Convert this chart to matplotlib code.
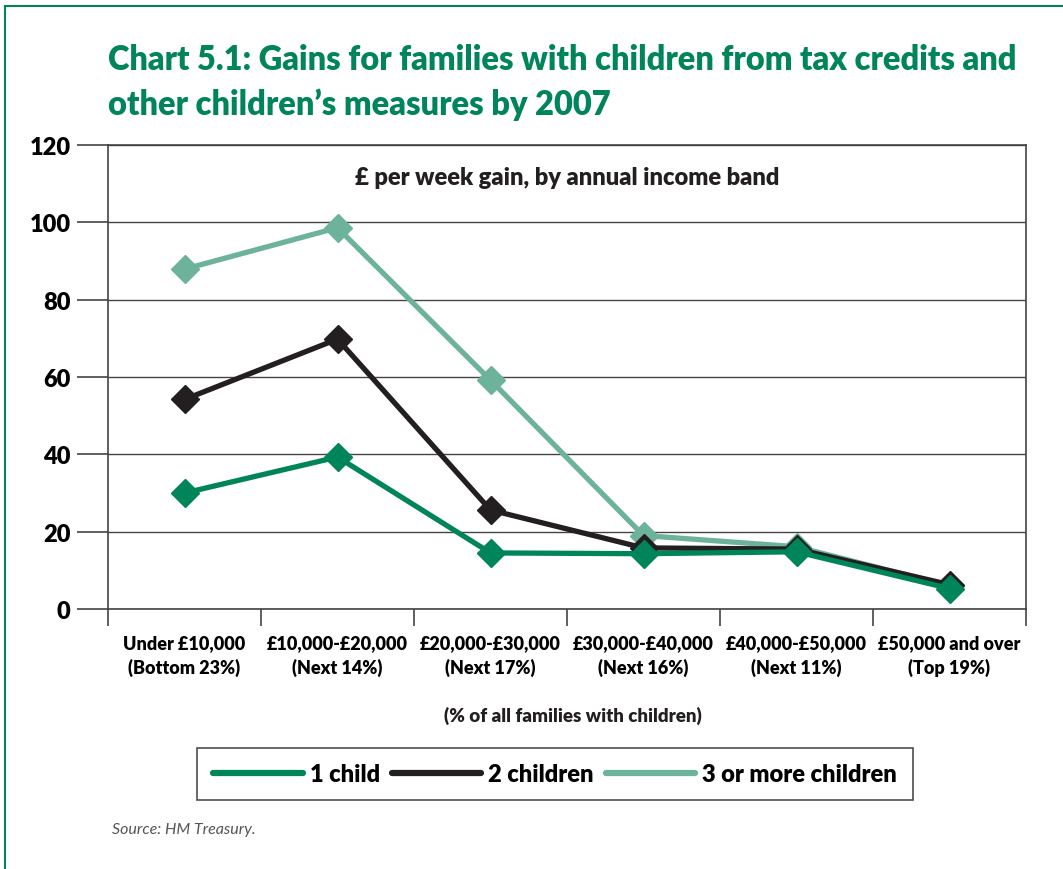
import numpy as np
import matplotlib.pyplot as plt
from matplotlib.lines import Line2D

# --- datos ---
bands = ["Under £10,000\n(Bottom 23%)", "£10,000-£20,000\n(Next 14%)",
         "£20,000-£30,000\n(Next 17%)", "£30,000-£40,000\n(Next 16%)",
         "£40,000-£50,000\n(Next 11%)", "£50,000 and over\n(Top 19%)"]
one_child = [30, 39.3, 14.5, 14.3, 14.8, 5.3]
two_children = [54.2, 69.8, 25.6, 15.8, 15.5, 6.3]
three_plus = [87.9, 98.6, 59.2, 19.0, 16.1, 6.0]
series_names = ["1 child", "2 children", "3 or more children"]

GREEN = "#00845A"
BLACK = "#231F20"
LIGHT = "#6DB39B"
W = 'heavy'

plt.rcParams['font.family'] = ['Lato', 'DejaVu Sans']

fig = plt.figure(figsize=(10.63, 8.70), dpi=100)
ax = fig.add_axes([108/1063, 1 - 610/870, (1026-108)/1063, (610-146)/870])

# borde verde de la figura
fig.add_artist(Line2D([5/1063, 5/1063], [0, 1 - 7/870], color=GREEN, lw=1.5))
fig.add_artist(Line2D([5/1063, 1], [1 - 7/870, 1 - 7/870], color=GREEN, lw=1.5))

x = np.arange(len(bands)) + 0.5
for vals, col in [(three_plus, LIGHT), (two_children, BLACK), (one_child, GREEN)]:
    ax.plot(x, vals, color=col, lw=3.8, marker='D', markersize=14,
            markeredgecolor=col, solid_joinstyle='miter')

ax.set_xlim(0, 6)
ax.set_ylim(0, 120)
ax.set_yticks(np.arange(0, 121, 20))
ax.set_yticklabels([str(v) for v in range(0, 121, 20)], fontsize=17, fontweight=W)
ax.tick_params(axis='y', length=22, width=1.2, color='#444444', pad=5)
ax.yaxis.grid(True, color='#444444', lw=1)
ax.set_axisbelow(True)

ax.set_xticks(np.arange(0, 7))
ax.set_xticklabels([])
ax.tick_params(axis='x', which='major', length=12, width=1.2, color='#444444', direction='out')
ax.set_xticks(x, minor=True)
ax.set_xticklabels(bands, minor=True, fontsize=13, fontweight=W, linespacing=1.45)
ax.tick_params(axis='x', which='minor', length=0, pad=18)

for s in ax.spines.values():
    s.set_color('#444444')
    s.set_linewidth(1.2)

ax.text(0.5, 0.93, "£ per week gain, by annual income band", transform=ax.transAxes,
        ha='center', va='center', fontsize=17, fontweight=W, color=BLACK)

fig.text(573/1063, 1 - 716/870, "(% of all families with children)", ha='center',
         va='center', fontsize=13.5, fontweight=W, color=BLACK)

fig.text(108/1063, 1 - 60/870, "Chart 5.1: Gains for families with children from tax credits and",
         ha='left', va='center', fontsize=23.5, fontweight=W, color=GREEN)
fig.text(108/1063, 1 - 105/870, "other children’s measures by 2007",
         ha='left', va='center', fontsize=23.5, fontweight=W, color=GREEN)

handles = [Line2D([], [], color=c, lw=4.5, solid_capstyle='round') for c in (GREEN, BLACK, LIGHT)]
leg = fig.legend(handles, series_names, loc='center', bbox_to_anchor=(555/1063, 1 - 775/870),
                 ncol=3, prop={'weight': W, 'size': 17}, frameon=True,
                 fancybox=False, edgecolor=BLACK, handlelength=3.8, handletextpad=0.3,
                 columnspacing=0.5, borderpad=0.65)
leg.get_frame().set_linewidth(1.2)

fig.text(112/1063, 1 - 830/870, "Source: HM Treasury.", ha='left', va='center',
         fontsize=11.5, style='italic', color='#555555')

fig.savefig("out.png", dpi=100)
